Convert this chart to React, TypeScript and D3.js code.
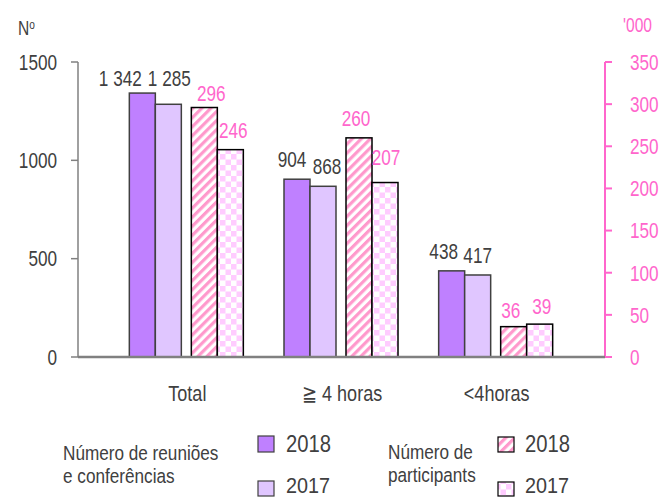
import React from 'react';
import * as d3 from 'd3';

const categories = ['Total', '≧ 4 horas', '<4horas'];
const meetings2018 = [1342, 904, 438];
const meetings2017 = [1285, 868, 417];
const participants2018 = [296, 260, 36];
const participants2017 = [246, 207, 39];
const leftTicks = [0, 500, 1000, 1500];
const rightTicks = [0, 50, 100, 150, 200, 250, 300, 350];
const legendYears = ['2018', '2017'];

// label nudges (style only): [dx, dy] relative to bar centre / top
const nudgeM2018 = [[-22, -15], [-5, -20], [-8, -20]];
const nudgeM2017 = [[1, -26], [4, -20], [0, -20]];
const nudgeP2018 = [[7, -14], [-3, -20], [-3, -16]];
const nudgeP2017 = [[3, -19], [1, -25], [2, -18]];

const FONT = '"Liberation Sans", Arial, sans-serif';
const GRAY = '#404040';
const PINK = '#FF66CC';
const SX = 0.78;

type TProps = {
  x: number; y: number; size: number; fill: string; anchor?: string; sx?: number; children: React.ReactNode;
};
function T({ x, y, size, fill, anchor = 'start', sx = SX, children }: TProps) {
  return (
    <text transform={`translate(${x},${y}) scale(${sx},1)`} textAnchor={anchor} dominantBaseline="central" fontSize={size} fill={fill}>
      {children}
    </text>
  );
}

export default function App() {
  const W = 662, H = 497;
  const left = 78, right = 605, top = 62, bottom = 357;
  const yL = d3.scaleLinear().domain([0, 1500]).range([bottom, top]);
  const yR = d3.scaleLinear().domain([0, 350]).range([bottom, top]);
  const x0 = d3.scaleBand<string>().domain(categories).range([109, 573]);
  const pair = d3.scaleBand<string>().domain(['m', 'p']).range([-57, 57]).paddingInner(10 / 62);
  const yr = d3.scaleBand<string>().domain(legendYears).range([0, pair.bandwidth()]);
  const fmt = d3.formatLocale({ decimal: ',', thousands: ' ', grouping: [3], currency: ['', ''] }).format(',');

  const series = [
    { key: 'm', year: '2018', values: meetings2018, y: yL, fill: '#BF80FF', stroke: '#404040', color: GRAY, nudge: nudgeM2018 },
    { key: 'm', year: '2017', values: meetings2017, y: yL, fill: '#E0C6FF', stroke: '#404040', color: GRAY, nudge: nudgeM2017 },
    { key: 'p', year: '2018', values: participants2018, y: yR, fill: 'url(#stripes)', stroke: '#000', color: PINK, nudge: nudgeP2018 },
    { key: 'p', year: '2017', values: participants2017, y: yR, fill: 'url(#checker)', stroke: '#000', color: PINK, nudge: nudgeP2017 },
  ];
  const bw = yr.bandwidth();

  return (
    <svg width={W} height={H} style={{ display: 'block', position: 'absolute', left: 0, top: 0 }} fontFamily={FONT}>
      <defs>
        <pattern id="stripes" patternUnits="userSpaceOnUse" width={6.4} height={6.4} patternTransform="rotate(45)">
          <rect width={6.4} height={6.4} fill="#fff" />
          <rect width={3.2} height={6.4} fill="#FF99CC" />
        </pattern>
        <pattern id="checker" patternUnits="userSpaceOnUse" width={11} height={11}>
          <rect width={11} height={11} fill="#fff" />
          <rect width={5.5} height={5.5} fill="#FFCCFF" />
          <rect x={5.5} y={5.5} width={5.5} height={5.5} fill="#FFCCFF" />
        </pattern>
      </defs>
      <rect width={W} height={H} fill="#fff" />

      {/* bars */}
      {series.map((s, si) =>
        categories.map((c, i) => {
          const x = (x0(c) as number) + x0.bandwidth() / 2 + (pair(s.key) as number) + (yr(s.year) as number);
          const yTop = s.y(s.values[i]);
          return (
            <g key={`${si}-${i}`}>
              <rect x={x} y={yTop} width={bw} height={bottom - yTop} fill={s.fill} stroke={s.stroke} strokeWidth={1.5} />
              <T x={x + bw / 2 + s.nudge[i][0]} y={yTop + s.nudge[i][1]} anchor="middle" size={22} fill={s.color}>
                {fmt(s.values[i])}
              </T>
            </g>
          );
        })
      )}

      {/* left axis */}
      <line x1={left} x2={left} y1={top} y2={bottom} stroke="#808080" strokeWidth={1.5} />
      {leftTicks.map(t => (
        <g key={t}>
          <line x1={left - 7} x2={left} y1={yL(t)} y2={yL(t)} stroke="#808080" strokeWidth={1.5} />
          <T x={57} y={yL(t)} anchor="end" size={22} fill={GRAY}>{t}</T>
        </g>
      ))}
      <T x={18} y={28} size={20} fill={GRAY}>
        N<tspan fontSize={13} dy={-5}>o</tspan>
      </T>

      {/* right axis */}
      <line x1={right} x2={right} y1={top} y2={bottom} stroke={PINK} strokeWidth={2} />
      {rightTicks.map(t => (
        <g key={t}>
          <line x1={right} x2={right + 7} y1={yR(t)} y2={yR(t)} stroke={PINK} strokeWidth={2} />
          <T x={630} y={yR(t)} size={22} fill={PINK}>{t}</T>
        </g>
      ))}
      <T x={623} y={25} size={20} fill={PINK}>'000</T>

      {/* baseline */}
      <line x1={left} x2={right} y1={bottom} y2={bottom} stroke="#808080" strokeWidth={2.5} />

      {/* categories */}
      {categories.map(c => (
        <T key={c} x={(x0(c) as number) + x0.bandwidth() / 2 + 1} y={393} anchor="middle" size={22} sx={0.82} fill={GRAY}>{c}</T>
      ))}

      {/* legend */}
      <T x={63} y={453} size={19.5} sx={0.88} fill={GRAY}>Número de reuniões</T>
      <T x={63} y={476} size={19.5} sx={0.88} fill={GRAY}>e conferências</T>
      <rect x={258} y={436} width={16} height={16} fill="#BF80FF" stroke="#404040" strokeWidth={1.2} />
      <T x={286} y={444} size={23} sx={0.88} fill={GRAY}>{legendYears[0]}</T>
      <rect x={258} y={481} width={16} height={15} fill="#E0C6FF" stroke="#404040" strokeWidth={1.2} />
      <T x={286} y={485} size={22} sx={0.9} fill={GRAY}>{legendYears[1]}</T>

      <T x={388} y={452} size={19.5} sx={0.88} fill={GRAY}>Número de</T>
      <T x={388} y={475} size={19.5} sx={0.88} fill={GRAY}>participants</T>
      <rect x={498} y={437} width={16} height={15} fill="url(#stripes)" stroke="#000" strokeWidth={1.2} />
      <T x={525} y={444} size={23} sx={0.88} fill={GRAY}>{legendYears[0]}</T>
      <rect x={498} y={482} width={16} height={14} fill="url(#checker)" stroke="#000" strokeWidth={1.2} />
      <T x={525} y={485} size={22} sx={0.9} fill={GRAY}>{legendYears[1]}</T>
    </svg>
  );
}
